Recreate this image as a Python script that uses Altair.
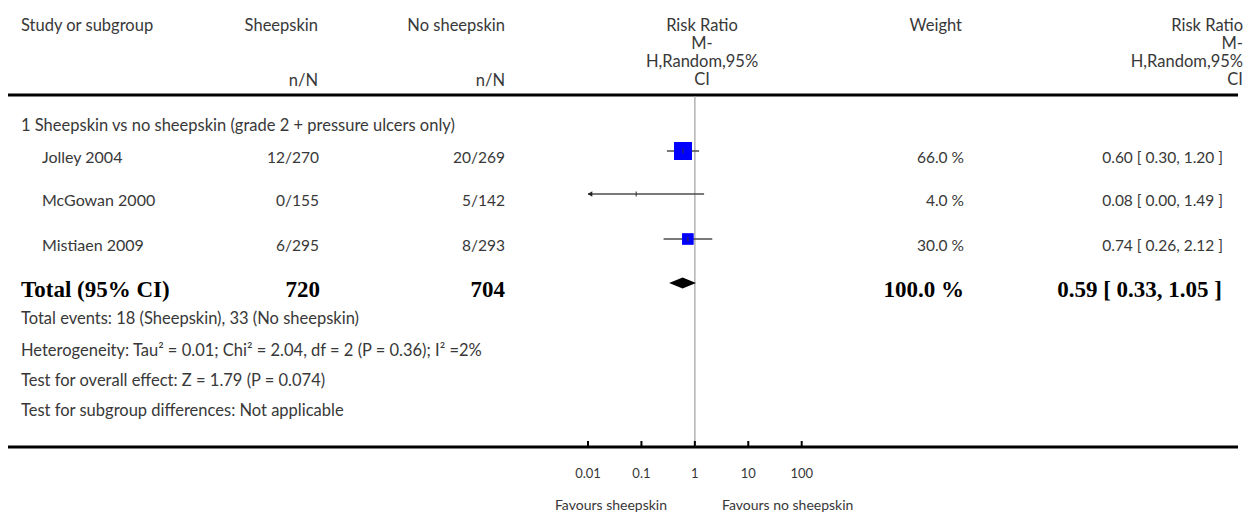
import altair as alt
import pandas as pd

# ---------------- data ----------------
studies = ["Jolley 2004", "McGowan 2000", "Mistiaen 2009"]
sheep_nN = ["12/270", "0/155", "6/295"]
nosheep_nN = ["20/269", "5/142", "8/293"]
weights = [66.0, 4.0, 30.0]
rr = [0.60, 0.08, 0.74]
rr_lo = [0.30, 0.00, 0.26]
rr_hi = [1.20, 1.49, 2.12]

total_label = "Total (95% CI)"
total_sheep = "720"
total_nosheep = "704"
total_weight = 100.0
total_rr = 0.59
total_lo = 0.33
total_hi = 1.05

group_label = "1 Sheepskin vs no sheepskin (grade 2 + pressure ulcers only)"
footnotes = [
    "Total events: 18 (Sheepskin), 33 (No sheepskin)",
    "Heterogeneity: Tau\u00b2 = 0.01; Chi\u00b2 = 2.04, df = 2 (P = 0.36); I\u00b2 =2%",
    "Test for overall effect: Z = 1.79 (P = 0.074)",
    "Test for subgroup differences: Not applicable",
]
tick_values = [0.01, 0.1, 1, 10, 100]
tick_labels = ["0.01", "0.1", "1", "10", "100"]
favours_left = "Favours sheepskin"
favours_right = "Favours no sheepskin"
rr_header = ["Risk Ratio", "M-", "H,Random,95%", "CI"]

# ---------------- layout (page pixels) ----------------
M = 8
W, H = 1237, 505
TEXT = "#383838"
SANS = "Lato"
SERIF = "Liberation Serif"
FS = 16.5        # letter text
NFS = 15.5       # numeric columns
BFS = 23         # bold total row

study_text_y = [158, 201, 246]
study_mark_y = [151, 194, 239]
total_text_y = 290
total_mark_y = 283
footnote_y = [319, 351, 381, 411]
header_y = [26, 44, 62, 80]
nN_y = 81
line_top_y = 95
axis_y = 447

xs = alt.Scale(type="log", domain=[0.01, 100], range=[588 - M, 801.7 - M], nice=False)
ys = alt.Scale(domain=[0, H], range=[0, H], nice=False, zero=False)


def label(text, x, y, align="left", size=FS, font=SANS, weight="normal", color=TEXT):
    return alt.Chart(pd.DataFrame({"t": [text]})).mark_text(
        align=align, baseline="middle", font=font, fontSize=size,
        fontWeight=weight, color=color
    ).encode(x=alt.value(x - M), y=alt.value(y - M), text="t:N")


rows = pd.DataFrame({
    "study": studies,
    "sheep": sheep_nN,
    "nosheep": nosheep_nN,
    "w": weights,
    "wtxt": [f"{w:.1f} %" for w in weights],
    "ci": [f"{r:.2f} [ {l:.2f}, {h:.2f} ]" for r, l, h in zip(rr, rr_lo, rr_hi)],
    "rr": rr,
    "lo": rr_lo,
    "hi": rr_hi,
})
rows["lo_c"] = rows["lo"].clip(lower=0.01)
rows["ty"] = [v - M for v in study_text_y]
rows["my"] = [v - M for v in study_mark_y]

layers = []

# horizontal black lines
for yy in (line_top_y, axis_y):
    layers.append(
        alt.Chart(pd.DataFrame({"a": [0]})).mark_rule(color="black", strokeWidth=3).encode(
            x=alt.value(0), x2=alt.value(1238 - M), y=alt.value(yy - M)
        )
    )

# reference line at RR = 1
layers.append(
    alt.Chart(pd.DataFrame({"v": [1]})).mark_rule(color="#b3b3b3", strokeWidth=1.5).encode(
        x=alt.X("v:Q", scale=xs, axis=None),
        y=alt.value(line_top_y - M + 1.5), y2=alt.value(axis_y - M)
    )
)

# CI lines
layers.append(
    alt.Chart(rows).mark_rule(color="#4d4d4d", strokeWidth=1.5).encode(
        x=alt.X("lo_c:Q", scale=xs, axis=None), x2="hi:Q",
        y=alt.Y("my:Q", scale=ys, axis=None)
    )
)
# arrow for truncated CI
layers.append(
    alt.Chart(rows[rows["lo"] < 0.01]).mark_point(
        shape="triangle-left", filled=True, size=28, color="#222222", opacity=1, xOffset=2
    ).encode(
        x=alt.X("lo_c:Q", scale=xs, axis=None),
        y=alt.Y("my:Q", scale=ys, axis=None)
    )
)
# weight squares
layers.append(
    alt.Chart(rows).mark_square(color="#0000ff", opacity=1).encode(
        x=alt.X("rr:Q", scale=xs, axis=None),
        y=alt.Y("my:Q", scale=ys, axis=None),
        size=alt.Size("w:Q", scale=alt.Scale(domain=[4, 66], range=[0, 324]), legend=None)
    )
)
# estimate ticks
layers.append(
    alt.Chart(rows).mark_tick(orient="vertical", size=5, thickness=1.5, color="#333333").encode(
        x=alt.X("rr:Q", scale=xs, axis=None),
        y=alt.Y("my:Q", scale=ys, axis=None)
    )
)
# pooled diamond
half = 5.5
diamond = pd.DataFrame({
    "x": [total_lo, total_rr, total_hi],
    "y1": [total_mark_y - M, total_mark_y - M - half, total_mark_y - M],
    "y2": [total_mark_y - M, total_mark_y - M + half, total_mark_y - M],
})
layers.append(
    alt.Chart(diamond).mark_area(color="black", orient="vertical", opacity=1).encode(
        x=alt.X("x:Q", scale=xs, axis=None),
        y=alt.Y("y1:Q", scale=ys, axis=None), y2="y2:Q"
    )
)

# axis ticks & labels
ticks = pd.DataFrame({"v": tick_values, "lab": tick_labels})
layers.append(
    alt.Chart(ticks).mark_rule(color="black", strokeWidth=2).encode(
        x=alt.X("v:Q", scale=xs, axis=None),
        y=alt.value(axis_y - M - 6), y2=alt.value(axis_y - M)
    )
)
layers.append(
    alt.Chart(ticks).mark_text(font=SANS, fontSize=13, color=TEXT, baseline="middle").encode(
        x=alt.X("v:Q", scale=xs, axis=None), y=alt.value(474 - M), text="lab:N"
    )
)
layers.append(label(favours_left, 667, 506, align="right", size=14))
layers.append(label(favours_right, 722, 506, align="left", size=14))

# header
layers.append(label("Study or subgroup", 21, header_y[0]))
layers.append(label("Sheepskin", 318, header_y[0], align="right"))
layers.append(label("n/N", 318, nN_y, align="right"))
layers.append(label("No sheepskin", 505, header_y[0], align="right"))
layers.append(label("n/N", 505, nN_y, align="right"))
layers.append(label("Weight", 962, header_y[0], align="right"))
for txt, yy in zip(rr_header, header_y):
    layers.append(label(txt, 702, yy, align="center"))
    layers.append(label(txt, 1243, yy, align="right"))

# group label
layers.append(label(group_label, 21, 126))


# study rows text
def col(field, x, align, size):
    return alt.Chart(rows).mark_text(
        align=align, baseline="middle", font=SANS, fontSize=size, color=TEXT
    ).encode(x=alt.value(x - M), y=alt.Y("ty:Q", scale=ys, axis=None), text=f"{field}:N")


layers.append(col("study", 42, "left", 16))
layers.append(col("sheep", 319, "right", NFS))
layers.append(col("nosheep", 505, "right", NFS))
layers.append(col("wtxt", 964, "right", NFS))
layers.append(col("ci", 1223, "right", NFS))

# total row
bold = dict(size=BFS, font=SERIF, weight="bold", color="black")
layers.append(label(total_label, 21, total_text_y, **bold))
layers.append(label(total_sheep, 320, total_text_y, align="right", **bold))
layers.append(label(total_nosheep, 505, total_text_y, align="right", **bold))
layers.append(label(f"{total_weight:.1f} %", 964, total_text_y, align="right", **bold))
layers.append(label(f"{total_rr:.2f} [ {total_lo:.2f}, {total_hi:.2f} ]", 1222, total_text_y,
                    align="right", **bold))

# footnotes
for txt, yy in zip(footnotes, footnote_y):
    layers.append(label(txt, 21, yy))

chart = alt.layer(*layers).properties(
    width=W, height=H, padding=0,
    autosize=alt.AutoSizeParams(type="none"),
    background="white",
).configure_view(strokeWidth=0)

chart.save("out.html", embed_options={"renderer": "svg", "actions": False})
